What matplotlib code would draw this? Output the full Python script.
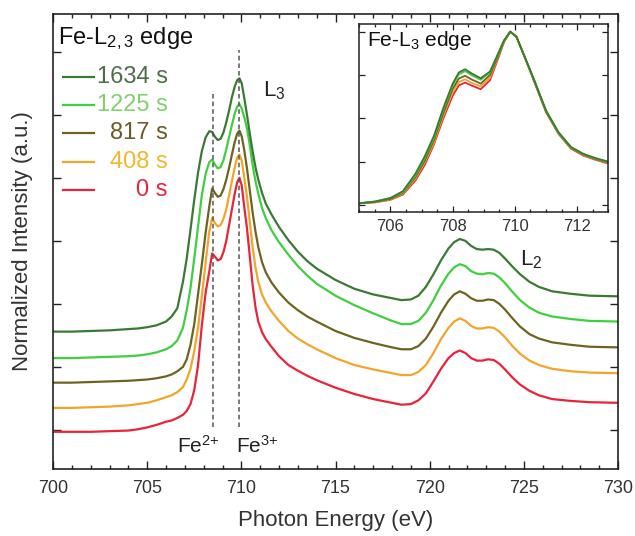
import matplotlib
matplotlib.use("Agg")
import matplotlib.pyplot as plt
from matplotlib.ticker import MultipleLocator, NullFormatter

plt.rcParams['font.family'] = ['Liberation Sans', 'DejaVu Sans']
plt.rcParams['mathtext.fontset'] = 'custom'
plt.rcParams['mathtext.rm'] = 'Liberation Sans'
plt.rcParams['mathtext.it'] = 'Liberation Sans:italic'

# ---------------- data ----------------
energy = [700, 701, 702, 703, 704, 704.5, 705, 705.5, 706, 706.3, 706.6, 706.9,
          707.1, 707.3, 707.5, 707.7, 707.9, 708.1, 708.3, 708.45, 708.6, 708.75,
          708.9, 709.05, 709.2, 709.35, 709.5, 709.65, 709.78, 709.9, 710.02, 710.15,
          710.3, 710.45, 710.6, 710.75, 710.9, 711.1, 711.3, 711.6, 712, 712.5,
          713, 713.5, 714, 715, 716, 717, 718, 718.5, 719, 719.4, 719.8, 720.2,
          720.6, 721.0, 721.3, 721.6, 721.9, 722.2, 722.5, 722.8, 723.1, 723.4,
          723.7, 724.0, 724.4, 724.8, 725.3, 725.8, 726.5, 727.5, 728.5, 730]

s0 = [-0.03, -0.03, -0.03, -0.02, -0.01, 0.01, 0.04, 0.08, 0.13, 0.15, 0.19, 0.24,
      0.30, 0.41, 0.63, 1.02, 1.65, 2.17, 2.52, 2.80, 2.75, 2.69,
      2.71, 2.82, 3.00, 3.25, 3.50, 3.75, 3.93, 4.00, 3.88, 3.55,
      3.20, 2.75, 2.30, 1.95, 1.72, 1.55, 1.44, 1.32, 1.17, 1.03,
      0.94, 0.86, 0.79, 0.67, 0.57, 0.49, 0.43, 0.40, 0.41, 0.47, 0.58, 0.77,
      0.97, 1.14, 1.22, 1.26, 1.22, 1.14, 1.10, 1.10, 1.12, 1.11,
      1.05, 0.96, 0.83, 0.72, 0.62, 0.55, 0.49, 0.46, 0.44, 0.43]

s408 = [0.35, 0.35, 0.36, 0.37, 0.39, 0.41, 0.43, 0.47, 0.52, 0.55, 0.60, 0.68,
        0.80, 0.97, 1.25, 1.62, 2.12, 2.65, 3.15, 3.36, 3.28, 3.23,
        3.25, 3.35, 3.50, 3.72, 3.95, 4.17, 4.32, 4.37, 4.27, 4.02,
        3.70, 3.30, 2.90, 2.58, 2.35, 2.15, 2.02, 1.88, 1.73, 1.57,
        1.45, 1.36, 1.28, 1.14, 1.03, 0.96, 0.90, 0.87, 0.87, 0.92, 1.03, 1.22,
        1.44, 1.62, 1.72, 1.77, 1.73, 1.65, 1.61, 1.61, 1.63, 1.62,
        1.56, 1.47, 1.33, 1.21, 1.10, 1.03, 0.97, 0.93, 0.91, 0.90]

s817 = [0.75, 0.75, 0.76, 0.77, 0.78, 0.79, 0.80, 0.82, 0.85, 0.88, 0.93, 1.00,
        1.12, 1.35, 1.68, 2.15, 2.62, 3.12, 3.55, 3.83, 3.76, 3.70,
        3.72, 3.82, 3.97, 4.16, 4.37, 4.57, 4.70, 4.75, 4.66, 4.45,
        4.15, 3.80, 3.45, 3.15, 2.90, 2.66, 2.50, 2.34, 2.18, 2.02,
        1.90, 1.80, 1.72, 1.57, 1.46, 1.38, 1.31, 1.28, 1.28, 1.33, 1.45, 1.64,
        1.86, 2.05, 2.15, 2.20, 2.16, 2.09, 2.05, 2.05, 2.07, 2.06,
        2.00, 1.91, 1.77, 1.64, 1.52, 1.45, 1.39, 1.35, 1.32, 1.31]

s1225 = [1.14, 1.14, 1.15, 1.16, 1.17, 1.18, 1.20, 1.23, 1.28, 1.33, 1.42, 1.62,
         1.90, 2.25, 2.72, 3.22, 3.72, 4.06, 4.25, 4.29, 4.21, 4.15,
         4.17, 4.28, 4.45, 4.65, 4.84, 5.02, 5.13, 5.17, 5.10, 4.97,
         4.78, 4.52, 4.20, 3.95, 3.75, 3.52, 3.36, 3.17, 2.98, 2.78,
         2.60, 2.45, 2.32, 2.13, 1.98, 1.85, 1.73, 1.68, 1.68, 1.73, 1.86, 2.06,
         2.29, 2.48, 2.58, 2.63, 2.60, 2.52, 2.48, 2.47, 2.49, 2.48,
         2.42, 2.33, 2.19, 2.06, 1.94, 1.86, 1.80, 1.76, 1.73, 1.72]

s1634 = [1.56, 1.56, 1.57, 1.58, 1.60, 1.61, 1.63, 1.66, 1.72, 1.80, 1.93, 2.35,
         2.72, 3.18, 3.65, 4.08, 4.42, 4.64, 4.74, 4.73, 4.65, 4.60,
         4.62, 4.72, 4.88, 5.07, 5.28, 5.45, 5.55, 5.58, 5.50, 5.28,
         5.00, 4.70, 4.42, 4.17, 3.97, 3.76, 3.59, 3.42, 3.22, 3.01,
         2.83, 2.68, 2.56, 2.38, 2.24, 2.15, 2.09, 2.06, 2.07, 2.13, 2.27, 2.47,
         2.69, 2.88, 2.98, 3.03, 3.00, 2.92, 2.87, 2.86, 2.87, 2.86,
         2.81, 2.72, 2.59, 2.47, 2.35, 2.27, 2.20, 2.16, 2.13, 2.12]

labels = ['1634 s', '1225 s', '817 s', '408 s', '0 s']
colors = ['#3b7a34', '#3fcf3f', '#6e6422', '#f2a52a', '#e8243a']
text_colors = ['#4e6e48', '#7fd36c', '#6b5a24', '#f3b62c', '#e8243a']

# inset (Fe-L3 edge, normalised)
energy_in = [705, 705.5, 706, 706.4, 706.8, 707.1, 707.4, 707.7, 708.0, 708.2, 708.4,
             708.6, 708.9, 709.2, 709.45, 709.65, 709.85, 710.05, 710.3, 710.6, 711.0,
             711.4, 711.8, 712.2, 712.6, 713]
in1634 = [0.01, 0.02, 0.04, 0.08, 0.18, 0.28, 0.40, 0.56, 0.70, 0.765, 0.783,
          0.76, 0.731, 0.77, 0.87, 0.95, 1.0, 0.97, 0.86, 0.73, 0.545,
          0.42, 0.335, 0.295, 0.27, 0.25]
in1225 = [0.01, 0.02, 0.04, 0.075, 0.17, 0.27, 0.39, 0.55, 0.69, 0.755, 0.772,
          0.75, 0.722, 0.765, 0.865, 0.948, 1.0, 0.97, 0.86, 0.728, 0.543,
          0.418, 0.333, 0.293, 0.268, 0.248]
in817 = [0.01, 0.018, 0.035, 0.07, 0.16, 0.255, 0.375, 0.53, 0.67, 0.73, 0.745,
         0.725, 0.70, 0.75, 0.855, 0.945, 1.0, 0.97, 0.86, 0.726, 0.54,
         0.415, 0.33, 0.29, 0.265, 0.245]
in408 = [0.01, 0.016, 0.032, 0.065, 0.15, 0.245, 0.36, 0.515, 0.65, 0.71, 0.725,
         0.705, 0.685, 0.735, 0.848, 0.942, 1.0, 0.97, 0.86, 0.724, 0.538,
         0.412, 0.328, 0.288, 0.263, 0.243]
in0 = [0.01, 0.015, 0.03, 0.06, 0.14, 0.23, 0.35, 0.50, 0.63, 0.69, 0.706,
       0.69, 0.668, 0.72, 0.84, 0.94, 1.0, 0.97, 0.86, 0.72, 0.535,
       0.41, 0.325, 0.285, 0.26, 0.24]

fe2_energy, fe3_energy = 708.5, 709.9
fe2_span = (0.05, 5.35)
fe3_span = (0.05, 6.03)

series = [s1634, s1225, s817, s408, s0]
inset_series = [in1634, in1225, in817, in408, in0]

# ---------------- figure ----------------
fig = plt.figure(figsize=(6.35, 5.36), dpi=100)
ax = fig.add_axes([53/635, 1-469/536, 565/635, 455/536])

for y, c in zip(series[::-1], colors[::-1]):
    ax.plot(energy, y, color=c, lw=1.6, solid_joinstyle='round')

ax.vlines(fe2_energy, *fe2_span, colors='#555555', linestyles=(0, (3, 2)), lw=1.1)
ax.vlines(fe3_energy, *fe3_span, colors='#555555', linestyles=(0, (3, 2)), lw=1.1)

ax.set_xlim(700, 730)
ax.set_ylim(-0.62, 6.60)
ax.xaxis.set_major_locator(MultipleLocator(5))
ax.xaxis.set_minor_locator(MultipleLocator(1))
ax.yaxis.set_major_locator(MultipleLocator(1))
ax.yaxis.set_major_formatter(NullFormatter())
ax.tick_params(which='both', direction='in', top=True, right=True, width=1.0, color='#222222')
ax.tick_params(which='major', length=6, labelsize=13, pad=8, labelcolor='#333333')
ax.tick_params(which='minor', length=3)
for sp in ax.spines.values():
    sp.set_linewidth(1.2)
    sp.set_color('#222222')

ax.set_xlabel('Photon Energy (eV)', fontsize=16, color='#333333')
ax.set_ylabel('Normalized Intensity (a.u.)', fontsize=16, color='#333333')
ax.xaxis.set_label_coords(0.5, -0.09)
ax.yaxis.set_label_coords(-0.035, 0.5)

# annotations
ax.text(707.7, -0.25, r'Fe$^{2{+}}$', fontsize=15, ha='center', va='center', color='#222222')
ax.text(710.85, -0.25, r'Fe$^{3{+}}$', fontsize=15, ha='center', va='center', color='#222222')
ax.text(711.15, 5.38, r'L$_{\mathregular{3}}$', fontsize=16, ha='left', va='center', color='#222222')
ax.text(724.8, 2.70, r'L$_{\mathregular{2}}$', fontsize=16, ha='left', va='center', color='#222222')

# legend (manual, numbers right-aligned)
ax.text(0.009, 0.945, r'Fe-L$_{\mathregular{2,3}}$ edge', transform=ax.transAxes,
        fontsize=17, ha='left', va='center', color='#111111')
row_y = [0.862, 0.800, 0.738, 0.675, 0.613]
for ry, lab, c, tc in zip(row_y, labels, colors, text_colors):
    ax.plot([0.018, 0.072], [ry, ry], transform=ax.transAxes, color=c, lw=1.6)
    ax.text(0.203, ry, lab, transform=ax.transAxes, fontsize=17, ha='right',
            va='center', color=tc)

# inset
axi = fig.add_axes([359.3/635, 1-212.3/536, 249/635, 188.3/536])
for y, c in zip(inset_series[::-1], colors[::-1]):
    axi.plot(energy_in, y, color=c, lw=1.3, solid_joinstyle='round')
axi.set_xlim(705, 713)
axi.set_ylim(-0.042, 1.044)
axi.xaxis.set_major_locator(MultipleLocator(2))
axi.xaxis.set_minor_locator(MultipleLocator(0.5))
axi.yaxis.set_major_locator(MultipleLocator(0.25))
axi.yaxis.set_major_formatter(NullFormatter())
axi.tick_params(which='both', direction='in', top=True, right=True, width=0.9, color='#222222')
axi.tick_params(which='major', length=4, labelsize=12, pad=5, labelcolor='#333333')
axi.tick_params(which='minor', length=2)
for sp in axi.spines.values():
    sp.set_linewidth(1.1)
    sp.set_color('#222222')
axi.text(0.031, 0.91, r'Fe-L$_{\mathregular{3}}$ edge', transform=axi.transAxes, fontsize=15,
         ha='left', va='center', color='#111111')

fig.savefig('out.png', dpi=100)
